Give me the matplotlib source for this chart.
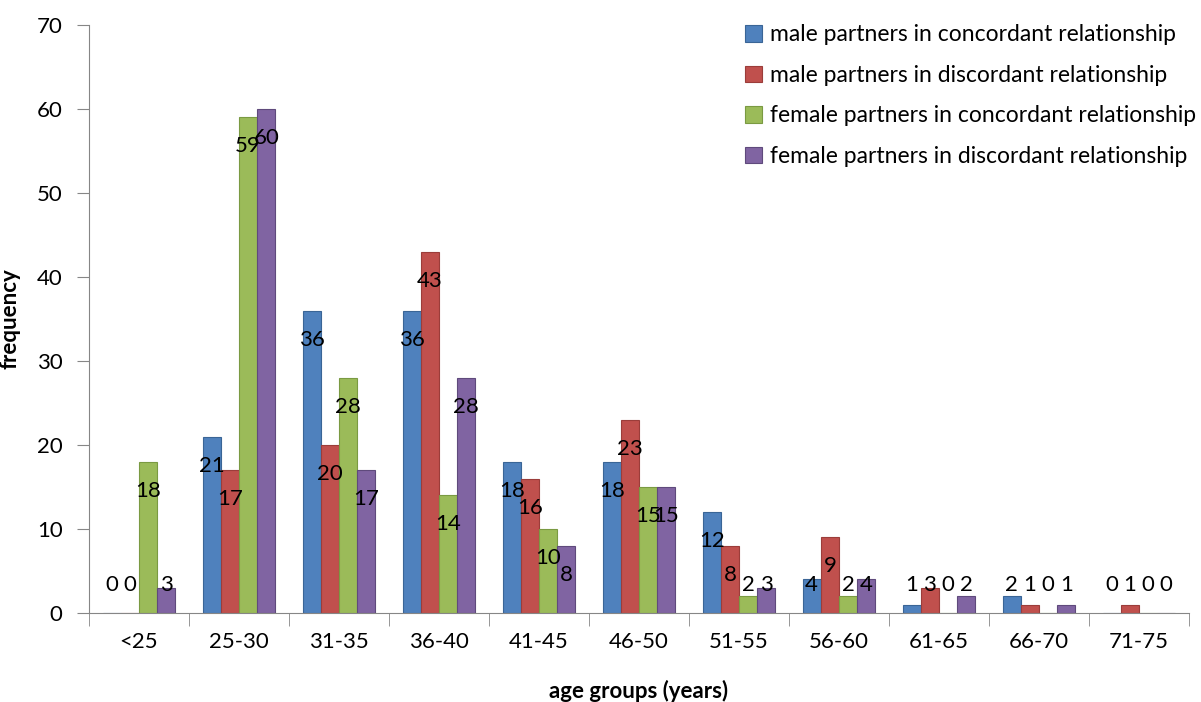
import numpy as np
import matplotlib.pyplot as plt

plt.rcParams['font.family'] = ['Lato', 'DejaVu Sans']

groups = ['<25', '25-30', '31-35', '36-40', '41-45', '46-50',
          '51-55', '56-60', '61-65', '66-70', '71-75']
male_conc = [0, 21, 36, 36, 18, 18, 12, 4, 1, 2, 0]
male_disc = [0, 17, 20, 43, 16, 23, 8, 9, 3, 1, 1]
female_conc = [18, 59, 28, 14, 10, 15, 2, 2, 0, 0, 0]
female_disc = [3, 60, 17, 28, 8, 15, 3, 4, 2, 1, 0]
series_names = ['male partners in concordant relationship',
                'male partners in discordant relationship',
                'female partners in concordant relationship',
                'female partners in discordant relationship']

series = [male_conc, male_disc, female_conc, female_disc]
colors = ['#4F81BD', '#C0504D', '#9BBB59', '#8064A2']
edges = ['#3A6596', '#9B3D3A', '#7A9A42', '#5F4A7C']

fig = plt.figure(figsize=(12.01, 7.02), dpi=100)
ax = fig.add_axes([89 / 1201, 1 - 613 / 702, 1100 / 1201, 588 / 702])

index = np.arange(len(groups))
bar_width = 0.182

for i, vals in enumerate(series):
    pos = index + (i - 1.5) * bar_width
    ax.bar(pos, vals, bar_width, color=colors[i], edgecolor=edges[i],
           linewidth=0.8, label=series_names[i])
    # labels sit just inside the bar top, short bars get them above the axis
    for x, v in zip(pos, vals):
        ax.text(x, max(v - 3.45, 3.3), str(v), ha='center', va='center',
                fontsize=16, color='black')

ax.set_xlim(-0.5, len(groups) - 0.5)
ax.set_ylim(0, 70)
ax.set_yticks(range(0, 71, 10))
ax.set_xticks(index)
ax.set_xticklabels(groups)
ax.set_xticks(np.arange(-0.5, len(groups), 1), minor=True)
ax.tick_params(axis='x', which='major', length=0, pad=14, labelsize=16)
ax.tick_params(axis='x', which='minor', length=9, color='#868686', direction='out')
ax.tick_params(axis='y', length=9, color='#868686', labelsize=16, pad=10)

for s in ['top', 'right']:
    ax.spines[s].set_visible(False)
for s in ['left', 'bottom']:
    ax.spines[s].set_color('#868686')

ax.set_xlabel('age groups (years)', fontsize=16, fontweight='bold', labelpad=20)
ax.set_ylabel('frequency', fontsize=16, fontweight='bold', labelpad=12)

ax.legend(loc='upper right', bbox_to_anchor=(1.025, 1.036), frameon=False,
          fontsize=16.5, handlelength=0.75, handleheight=0.75, handletextpad=0.35,
          labelspacing=0.85)

plt.savefig('out.png', dpi=100)
